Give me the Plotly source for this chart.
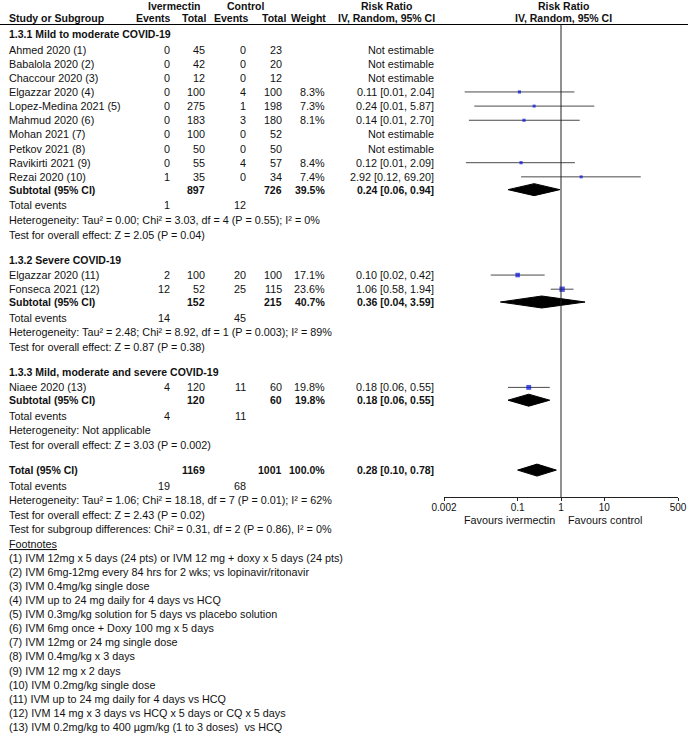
import numpy as np
import plotly.graph_objects as go

# ---- data ----
subgroups = ["1.3.1 Mild to moderate COVID-19",
             "1.3.2 Severe COVID-19",
             "1.3.3 Mild, moderate and severe COVID-19"]

studies = ["Ahmed 2020 (1)", "Babalola 2020 (2)", "Chaccour 2020 (3)", "Elgazzar 2020 (4)",
           "Lopez-Medina 2021 (5)", "Mahmud 2020 (6)", "Mohan 2021 (7)", "Petkov 2021 (8)",
           "Ravikirti 2021 (9)", "Rezai 2020 (10)",
           "Elgazzar 2020 (11)", "Fonseca 2021 (12)",
           "Niaee 2020 (13)"]
study_group = [0, 0, 0, 0, 0, 0, 0, 0, 0, 0, 1, 1, 2]

iv_events = [0, 0, 0, 0, 0, 0, 0, 0, 0, 1, 2, 12, 4]
iv_total = [45, 42, 12, 100, 275, 183, 100, 50, 55, 35, 100, 52, 120]
ctl_events = [0, 0, 0, 4, 1, 3, 0, 0, 4, 0, 20, 25, 11]
ctl_total = [23, 20, 12, 100, 198, 180, 52, 50, 57, 34, 100, 115, 60]
weight = [None, None, None, 8.3, 7.3, 8.1, None, None, 8.4, 7.4, 17.1, 23.6, 19.8]
rr = [None, None, None, 0.11, 0.24, 0.14, None, None, 0.12, 2.92, 0.10, 1.06, 0.18]
rr_lo = [None, None, None, 0.006, 0.01, 0.0075, None, None, 0.0064, 0.12, 0.024, 0.58, 0.06]
rr_hi = [None, None, None, 2.04, 5.87, 2.70, None, None, 2.09, 69.20, 0.42, 1.94, 0.55]

sub_iv_total = [897, 152, 120]
sub_ctl_total = [726, 215, 60]
sub_weight = [39.5, 40.7, 19.8]
sub_rr = [0.24, 0.36, 0.18]
sub_lo = [0.06, 0.04, 0.06]
sub_hi = [0.94, 3.59, 0.55]
sub_iv_events = [1, 14, 4]
sub_ctl_events = [12, 45, 11]
sub_het = ["Heterogeneity: Tau² = 0.00; Chi² = 3.03, df = 4 (P = 0.55); I² = 0%",
           "Heterogeneity: Tau² = 2.48; Chi² = 8.92, df = 1 (P = 0.003); I² = 89%",
           "Heterogeneity: Not applicable"]
sub_test = ["Test for overall effect: Z = 2.05 (P = 0.04)",
            "Test for overall effect: Z = 0.87 (P = 0.38)",
            "Test for overall effect: Z = 3.03 (P = 0.002)"]

total_iv, total_ctl, total_weight = 1169, 1001, 100.0
total_rr, total_lo, total_hi = 0.28, 0.10, 0.78
total_iv_events, total_ctl_events = 19, 68
total_notes = ["Heterogeneity: Tau² = 1.06; Chi² = 18.18, df = 7 (P = 0.01); I² = 62%",
               "Test for overall effect: Z = 2.43 (P = 0.02)",
               "Test for subgroup differences: Chi² = 0.31, df = 2 (P = 0.86), I² = 0%"]

footnotes = ["(1) IVM 12mg x 5 days (24 pts) or IVM 12 mg + doxy x 5 days (24 pts)",
             "(2) IVM 6mg-12mg every 84 hrs for 2 wks; vs lopinavir/ritonavir",
             "(3) IVM 0.4mg/kg single dose",
             "(4) IVM up to 24 mg daily for 4 days vs HCQ",
             "(5) IVM 0.3mg/kg solution for 5 days vs placebo solution",
             "(6) IVM 6mg once + Doxy 100 mg x 5 days",
             "(7) IVM 12mg or 24 mg single dose",
             "(8) IVM 0.4mg/kg x 3 days",
             "(9) IVM 12 mg x 2 days",
             "(10) IVM 0.2mg/kg single dose",
             "(11) IVM up to 24 mg daily for 4 days vs HCQ",
             "(12) IVM 14 mg x 3 days vs HCQ x 5 days or CQ x 5 days",
             "(13) IVM 0.2mg/kg to 400 µgm/kg (1 to 3 doses)  vs HCQ"]

tick_vals = [0.002, 0.1, 1, 10, 500]
tick_text = ["0.002", "0.1", "1", "10", "500"]

# ---- layout constants (pixels) ----
W, H = 690, 734
FONT = "Liberation Sans, Arial, sans-serif"
FS = 10.8     # regular text
FSB = 10.5    # bold text
X_NAME, X_IVE, X_IVT, X_CE, X_CT, X_W, X_RR = 7, 172, 206.5, 248, 283.5, 326.5, 436
AXIS_Y = 497
LINE_Y = 24.5

annots = []


def txt(x, y, s, anchor="left", bold=False):
    if bold:
        s = "<b>" + s + "</b>"
    annots.append(dict(x=x, y=y, xref="x", yref="y", text=s, showarrow=False,
                       xanchor=anchor, yanchor="middle",
                       font=dict(family=FONT, size=FSB if bold else FS, color="#111")))


def fmt_rr(v, lo, hi):
    return f"{v:.2f} [{lo:.2f}, {hi:.2f}]"


# header
txt(174, 5.5, "Ivermectin", "center", True)
txt(245, 5.5, "Control", "center", True)
txt(386, 5.5, "Risk Ratio", "center", True)
txt(563, 5.5, "Risk Ratio", "center", True)
txt(X_NAME, 17.5, "Study or Subgroup", bold=True)
txt(X_IVE + 1, 17.5, "Events", "right", True)
txt(X_IVT + 1, 17.5, "Total", "right", True)
txt(X_CE + 3, 17.5, "Events", "right", True)
txt(X_CT + 4, 17.5, "Total", "right", True)
txt(X_W + 1, 17.5, "Weight", "right", True)
txt(386, 17.5, "IV, Random, 95% CI", "center", True)
txt(563, 17.5, "IV, Random, 95% CI", "center", True)

ci_x, ci_y = [], []
sq_x, sq_y, sq_s = [], [], []
diamonds = []

y = 34
for g, gname in enumerate(subgroups):
    txt(X_NAME, y, gname, bold=True)
    y += 15.5
    idx = [i for i, sg in enumerate(study_group) if sg == g]
    for k, i in enumerate(idx):
        if k > 0:
            y += 14.15
        txt(X_NAME, y, studies[i])
        txt(X_IVE, y, str(iv_events[i]), "right")
        txt(X_IVT, y, str(iv_total[i]), "right")
        txt(X_CE, y, str(ctl_events[i]), "right")
        txt(X_CT, y, str(ctl_total[i]), "right")
        if rr[i] is None:
            txt(X_RR, y, "Not estimable", "right")
        else:
            txt(X_W, y, f"{weight[i]:.1f}%", "right")
            txt(X_RR, y, fmt_rr(rr[i], rr_lo[i], rr_hi[i]), "right")
            ci_x += [rr_lo[i], rr_hi[i], None]
            ci_y += [y, y, None]
            sq_x.append(rr[i])
            sq_y.append(y)
            sq_s.append(1.1 * np.sqrt(weight[i]))
    y += 12.8
    txt(X_NAME, y, "Subtotal (95% CI)", bold=True)
    txt(X_IVT, y, str(sub_iv_total[g]), "right", True)
    txt(X_CT, y, str(sub_ctl_total[g]), "right", True)
    txt(X_W, y, f"{sub_weight[g]:.1f}%", "right", True)
    txt(X_RR, y, fmt_rr(sub_rr[g], sub_lo[g], sub_hi[g]), "right", True)
    diamonds.append((sub_lo[g], sub_rr[g], sub_hi[g], y))
    y += 15.6
    txt(X_NAME, y, "Total events")
    txt(X_IVE, y, str(sub_iv_events[g]), "right")
    txt(X_CE, y, str(sub_ctl_events[g]), "right")
    y += 14.5
    txt(X_NAME, y, sub_het[g])
    y += 14.8
    txt(X_NAME, y, sub_test[g])
    y += 25

txt(X_NAME, y, "Total (95% CI)", bold=True)
txt(X_IVT, y, str(total_iv), "right", True)
txt(X_CT, y, str(total_ctl), "right", True)
txt(X_W, y, f"{total_weight:.1f}%", "right", True)
txt(X_RR, y, fmt_rr(total_rr, total_lo, total_hi), "right", True)
diamonds.append((total_lo, total_rr, total_hi, y))
y += 15.6
txt(X_NAME, y, "Total events")
txt(X_IVE, y, str(total_iv_events), "right")
txt(X_CE, y, str(total_ctl_events), "right")
for note in total_notes:
    y += 14.5
    txt(X_NAME, y, note)
y += 14.3
txt(X_NAME, y, "<u>Footnotes</u>")
for fn in footnotes:
    y += 14.12
    txt(X_NAME, y, fn)

txt(557, 520, "Favours ivermectin", "right")
txt(566, 520, "Favours control", "left")

fig = go.Figure()

fig.add_trace(go.Scatter(x=ci_x, y=ci_y, xaxis="x2", yaxis="y", mode="lines",
                         line=dict(color="#4a4a4a", width=1), hoverinfo="skip"))
fig.add_trace(go.Scatter(x=sq_x, y=sq_y, xaxis="x2", yaxis="y", mode="markers",
                         marker=dict(symbol="square", size=sq_s, color="#0010e0",
                                     line=dict(width=0)), hoverinfo="skip"))
for lo, est, hi, yc in diamonds:
    fig.add_trace(go.Scatter(x=[lo, est, hi, est, lo], y=[yc, yc - 6, yc, yc + 6, yc],
                             xaxis="x2", yaxis="y", mode="lines", fill="toself",
                             fillcolor="black", line=dict(color="black", width=1),
                             hoverinfo="skip"))

fig.update_layout(
    template="none",
    width=W, height=H,
    margin=dict(l=0, r=0, t=0, b=0, pad=0),
    paper_bgcolor="white", plot_bgcolor="white",
    showlegend=False,
    hovermode=False,
    annotations=annots,
    xaxis=dict(range=[0, W], domain=[0, 1], visible=False, fixedrange=True,
               automargin=False),
    yaxis=dict(range=[H, 0], domain=[0, 1], visible=False, fixedrange=True,
               automargin=False),
    xaxis2=dict(type="log", range=[np.log10(0.002), np.log10(500)],
                domain=[444 / W, 678 / W], anchor="free", position=(H - AXIS_Y) / H,
                automargin=False,
                showline=True, linecolor="#222", linewidth=1,
                ticks="outside", ticklen=3, tickcolor="#222",
                ticklabelstandoff=-2,
                tickvals=tick_vals, ticktext=tick_text,
                tickfont=dict(family=FONT, size=10, color="#111"),
                showgrid=False, zeroline=False, fixedrange=True),
    shapes=[
        dict(type="line", xref="paper", yref="y", x0=0, x1=688 / W, y0=LINE_Y, y1=LINE_Y,
             line=dict(color="black", width=1)),
        dict(type="line", xref="x2", yref="y", x0=1, x1=1, y0=LINE_Y, y1=AXIS_Y,
             line=dict(color="#222", width=1)),
    ],
)

# page body has a default 8px margin; drop it so the figure sits at the corner
fig.write_html("out.html", config={"displayModeBar": False},
               post_script="document.body.style.margin='0';")
